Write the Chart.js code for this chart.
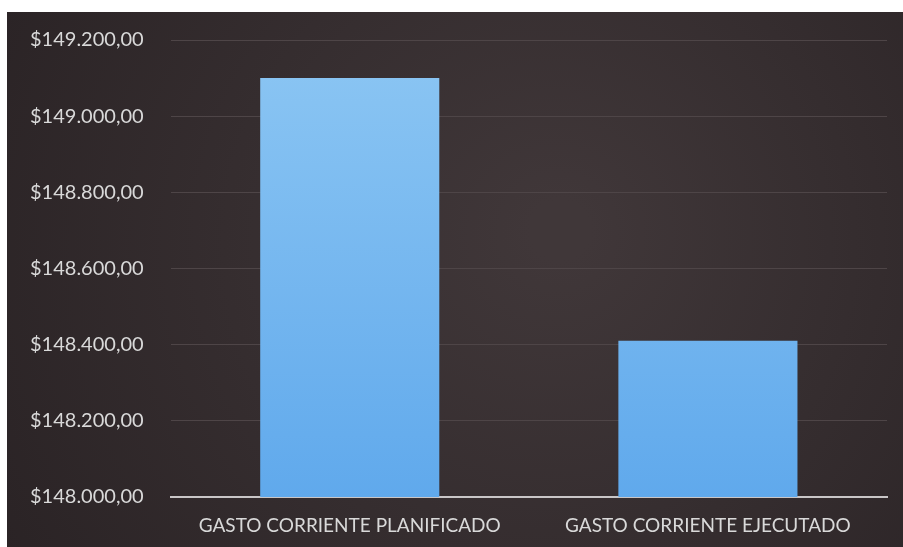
<!DOCTYPE html>
<html><head><meta charset="utf-8">
<script src="https://cdn.jsdelivr.net/npm/chart.js@4.4.0/dist/chart.umd.min.js"></script>
<style>html,body{margin:0;padding:0;background:#fff;}#wrap{width:903px;height:547px;}</style>
</head><body><div id="wrap"><canvas id="c" width="903" height="547"></canvas></div>
<script>
const categories = ["GASTO CORRIENTE PLANIFICADO", "GASTO CORRIENTE EJECUTADO"];
const gasto = [149100, 148410];
const yTicks = [148000, 148200, 148400, 148600, 148800, 149000, 149200];

function fmt(v){
  const s = Math.round(v).toString().replace(/\B(?=(\d{3})+(?!\d))/g, ".");
  return "$" + s + ",00";
}

const bgPlugin = {
  id: 'bg',
  beforeDraw(chart){
    const ctx = chart.ctx;
    ctx.save();
    ctx.fillStyle = '#ffffff';
    ctx.fillRect(0,0,chart.width,chart.height);
    const g = ctx.createRadialGradient(560,230,30,520,260,600);
    g.addColorStop(0,'#403739');
    g.addColorStop(1,'#2a2325');
    ctx.fillStyle = g;
    ctx.fillRect(7,12,chart.width-7,chart.height-12);
    ctx.restore();
  }
};

new Chart(document.getElementById('c'), {
  type: 'bar',
  data: {
    labels: categories,
    datasets: [{
      data: gasto,
      backgroundColor(ctx){
        const ca = ctx.chart.chartArea;
        if(!ca) return '#78b8ef';
        const g = ctx.chart.ctx.createLinearGradient(0, ca.top, 0, ca.bottom);
        g.addColorStop(0,'#8cc6f3');
        g.addColorStop(1,'#60a9ec');
        return g;
      },
      borderWidth: 0,
      barPercentage: 1,
      categoryPercentage: 0.5
    }]
  },
  options: {
    responsive: false,
    animation: false,
    devicePixelRatio: 1,
    layout: { padding: { left: 3, right: 16, top: 40, bottom: 0 } },
    plugins: { legend: { display: false }, tooltip: { enabled: false } },
    scales: {
      x: {
        afterFit(axis){ axis.height = 50; },
        grid: { display: false, drawTicks: false },
        border: { display: true, color: '#c9c6c7', width: 2 },
        ticks: { color: '#d9d9d9', font: { family: 'Lato', size: 19 }, padding: 17, maxRotation: 0 }
      },
      y: {
        min: 148000, max: 149200,
        afterBuildTicks(axis){ axis.ticks = yTicks.map(v => ({ value: v })); },
        grid: { color: '#4e4547', lineWidth: 1, drawTicks: false },
        border: { display: false },
        ticks: { color: '#d9d9d9', font: { family: 'Lato', size: 20 }, padding: 27, callback: v => fmt(v) }
      }
    }
  },
  plugins: [bgPlugin]
});
</script></body></html>
